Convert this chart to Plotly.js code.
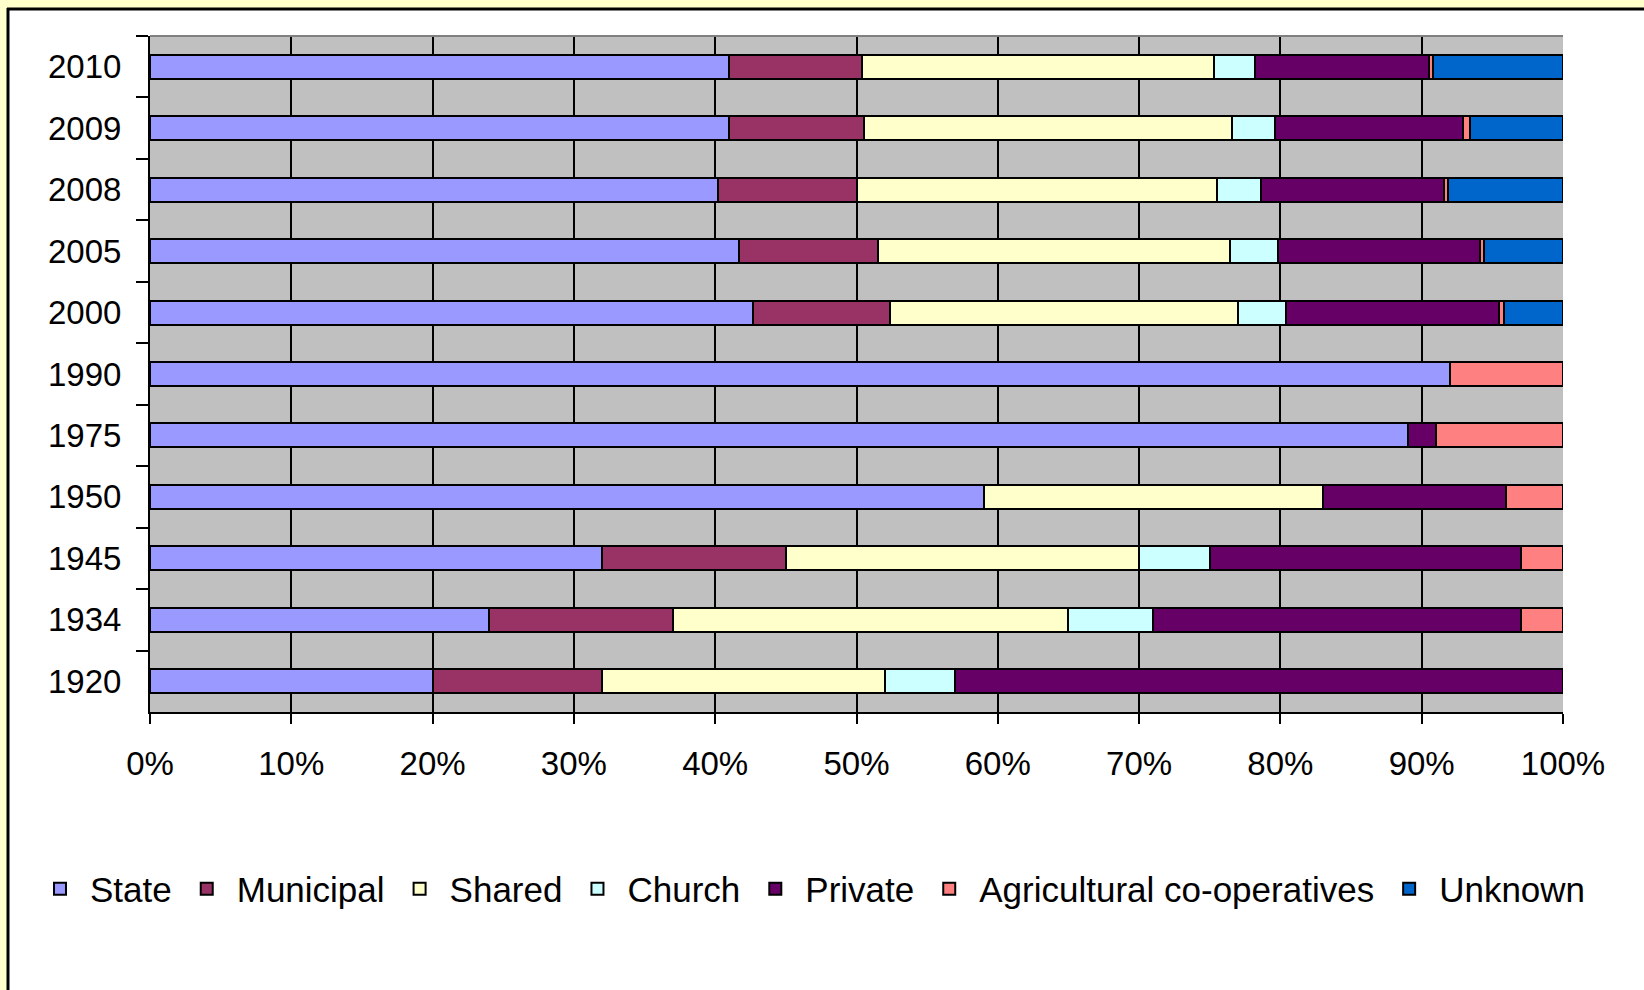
<!DOCTYPE html>
<html>
<head>
<meta charset="utf-8">
<script src="https://cdn.plot.ly/plotly-3.0.1.min.js"></script>
<style>html,body{margin:0;padding:0;background:#FFFFFF;}#chart{width:1644px;height:990px;}</style>
</head>
<body>
<div id="chart"></div>
<script>
// Categories (top to bottom)
const years = ['2010', '2009', '2008', '2005', '2000', '1990', '1975', '1950', '1945', '1934', '1920'];
// Shares in percent
const state     = [41.0, 41.0, 40.2, 41.7, 42.7, 92, 89, 59, 32, 24, 20];
const municipal = [9.4, 9.5, 9.8, 9.8, 9.7, null, null, null, 13, 13, 12];
const shared    = [24.9, 26.1, 25.5, 24.9, 24.6, null, null, 24, 25, 28, 20];
const church    = [2.9, 3.0, 3.1, 3.4, 3.4, null, null, null, 5, 6, 5];
const privateOw = [12.3, 13.3, 13.0, 14.3, 15.1, null, 2, 13, 22, 26, 43];
const agricult  = [0.3, 0.5, 0.25, 0.3, 0.3, 8, 9, 4, 3, 3, null];
const unknown   = [9.2, 6.6, 8.15, 5.6, 4.2, null, null, null, null, null, null];
const tickVals  = [0, 10, 20, 30, 40, 50, 60, 70, 80, 90, 100];
const tickText  = ['0%', '10%', '20%', '30%', '40%', '50%', '60%', '70%', '80%', '90%', '100%'];

const series = [
  {name: 'State', values: state, color: '#9999FF'},
  {name: 'Municipal', values: municipal, color: '#993366'},
  {name: 'Shared', values: shared, color: '#FFFFCC'},
  {name: 'Church', values: church, color: '#CCFFFF'},
  {name: 'Private', values: privateOw, color: '#660066'},
  {name: 'Agricultural co-operatives', values: agricult, color: '#FF8080'},
  {name: 'Unknown', values: unknown, color: '#0066CC'}
];

const traces = series.map(s => ({
  type: 'bar',
  orientation: 'h',
  name: s.name,
  y: years,
  x: s.values,
  marker: {color: s.color, line: {color: '#000000', width: 2}},
  hoverinfo: 'name+x'
}));

// plot area in pixels: x 150..1563, y 36..712
const W = 1644, H = 990;
const L = 150, R = 1563, T = 36, B = 712;
const px = v => (v - L) / (R - L);
const py = v => (B - v) / (B - T);

const font = {family: '"Liberation Sans", Arial, sans-serif', size: 33, color: '#000000'};

const layout = {
  width: W,
  height: H,
  paper_bgcolor: '#FFFFFF',
  plot_bgcolor: '#C0C0C0',
  font: font,
  barmode: 'stack',
  bargap: 0.61,
  margin: {l: L, r: W - R, t: T, b: H - B, pad: 0},
  showlegend: true,
  legend: {
    orientation: 'h',
    traceorder: 'normal',
    x: px(30), xanchor: 'left',
    y: py(889), yanchor: 'middle',
    font: {family: font.family, size: 35, color: '#000'},
    itemwidth: 50,
    bgcolor: 'rgba(0,0,0,0)',
    itemclick: false
  },
  xaxis: {
    range: [0, 100],
    tickmode: 'array',
    tickvals: tickVals,
    ticktext: tickText,
    showgrid: true,
    gridcolor: '#000000',
    gridwidth: 2,
    zeroline: false,
    showline: true,
    linecolor: '#000000',
    linewidth: 2,
    ticks: 'outside',
    ticklen: 10,
    tickwidth: 2,
    tickcolor: '#000000',
    ticklabelstandoff: 11,
    tickfont: font,
    fixedrange: true
  },
  yaxis: {
    type: 'category',
    categoryorder: 'array',
    categoryarray: years,
    autorange: 'reversed',
    showgrid: false,
    zeroline: false,
    showline: true,
    linecolor: '#000000',
    linewidth: 2,
    ticks: 'outside',
    tickson: 'boundaries',
    ticklen: 12,
    tickwidth: 2,
    tickcolor: '#000000',
    ticklabelstandoff: 20,
    tickfont: font,
    fixedrange: true
  },
  shapes: [
    // yellow outer strips
    {type: 'rect', xref: 'paper', yref: 'paper', layer: 'below',
     x0: px(-5), x1: px(1660), y0: py(8), y1: py(-5),
     fillcolor: '#FFFFCC', line: {width: 0}},
    {type: 'rect', xref: 'paper', yref: 'paper', layer: 'below',
     x0: px(-5), x1: px(7), y0: py(1000), y1: py(-5),
     fillcolor: '#FFFFCC', line: {width: 0}},
    // black frame lines
    {type: 'line', xref: 'paper', yref: 'paper', layer: 'below',
     x0: px(7), x1: px(1660), y0: py(9), y1: py(9), line: {color: '#000000', width: 3}},
    {type: 'line', xref: 'paper', yref: 'paper', layer: 'below',
     x0: px(8), x1: px(8), y0: py(8), y1: py(1000), line: {color: '#000000', width: 3}},
    // grey plot-area border (top)
    {type: 'line', xref: 'paper', yref: 'paper', layer: 'above',
     x0: 0, x1: 1, y0: 1, y1: 1, line: {color: '#808080', width: 2}}
  ]
};

Plotly.newPlot('chart', traces, layout, {displayModeBar: false});
</script>
</body>
</html>
